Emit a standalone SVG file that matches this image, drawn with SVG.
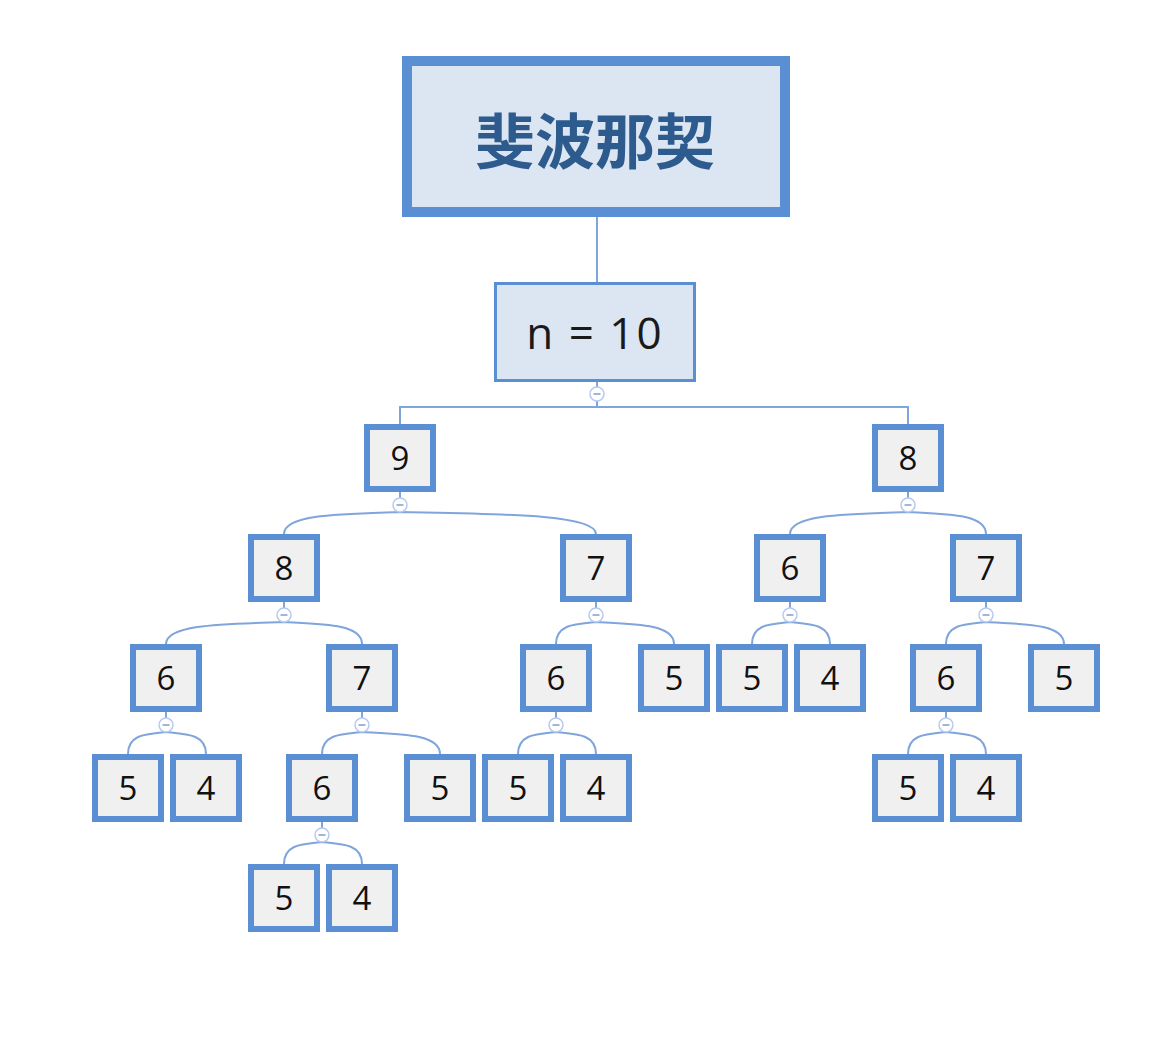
<svg xmlns="http://www.w3.org/2000/svg" width="1162" height="1044" viewBox="0 0 1162 1044">
<style>
.bx{fill:#f0f0f0;stroke:#5a8fd4;stroke-width:6}
.num{font-family:"Open Sans","Noto Sans",sans-serif;font-size:33px;fill:#111;text-anchor:middle}
.cn{fill:none;stroke:#7fa5dc;stroke-width:2}
.cc{fill:#fff;stroke:#b7caee;stroke-width:1.5}
.cm{stroke:#8ea3d0;stroke-width:1.6}
</style>
<defs>
<g id="tog"><circle class="cc" r="7"/><line class="cm" x1="-3.5" y1="0" x2="3.5" y2="0"/></g>
</defs>
<rect width="1162" height="1044" fill="#fff"/>
<g id="connectors">
<line class="cn" x1="597" y1="217" x2="597" y2="283"/>
<path class="cn" d="M597,382 V388 M597,401 V407 M400,424 V407 H908 V424"/>
<path class="cn" d="M400,492 V498 M908,492 V498 M284,602 V608 M596,602 V608 M790,602 V608 M986,602 V608 M166,712 V718 M362,712 V718 M556,712 V718 M946,712 V718 M322,822 V828"/>
<path class="cn" d="M400,512 C342,514 284,514 284,534 M400,512 C498,514 596,514 596,534 M908,512 C849,514 790,514 790,534 M908,512 C947,514 986,514 986,534"/>
<path class="cn" d="M284,622 C225,624 166,624 166,644 M284,622 C323,624 362,624 362,644 M596,622 C576,624 556,624 556,644 M596,622 C635,624 674,624 674,644 M790,622 C771,624 752,624 752,644 M790,622 C810,624 830,624 830,644 M986,622 C966,624 946,624 946,644 M986,622 C1025,624 1064,624 1064,644"/>
<path class="cn" d="M166,732 C147,734 128,734 128,754 M166,732 C186,734 206,734 206,754 M362,732 C342,734 322,734 322,754 M362,732 C401,734 440,734 440,754 M556,732 C537,734 518,734 518,754 M556,732 C576,734 596,734 596,754 M946,732 C927,734 908,734 908,754 M946,732 C966,734 986,734 986,754"/>
<path class="cn" d="M322,842 C303,844 284,844 284,864 M322,842 C342,844 362,844 362,864"/>
<use href="#tog" x="597" y="394"/>
<use href="#tog" x="400" y="505"/><use href="#tog" x="908" y="505"/>
<use href="#tog" x="284" y="615"/><use href="#tog" x="596" y="615"/><use href="#tog" x="790" y="615"/><use href="#tog" x="986" y="615"/>
<use href="#tog" x="166" y="725"/><use href="#tog" x="362" y="725"/><use href="#tog" x="556" y="725"/><use href="#tog" x="946" y="725"/>
<use href="#tog" x="322" y="835"/>
</g>
<g id="root"><rect x="407" y="61" width="378" height="151" fill="#dce6f2" stroke="#5a8fd4" stroke-width="10"/>
<text x="595" y="164" text-anchor="middle" font-family="'Noto Sans CJK SC','Noto Sans',sans-serif" font-weight="bold" font-size="60" fill="#2d5b8e">斐波那契</text></g>
<g id="n10"><rect x="495.5" y="283.5" width="199" height="97" fill="#dce6f2" stroke="#5a8fd4" stroke-width="3"/>
<text x="595" y="349" text-anchor="middle" font-family="'Open Sans','Noto Sans',sans-serif" font-size="44" fill="#1a1a1a" letter-spacing="2">n = 10</text></g>
<g id="L1a"><rect class="bx" x="367" y="427" width="66" height="62"/><text class="num" x="400" y="470">9</text></g>
<g id="L1b"><rect class="bx" x="875" y="427" width="66" height="62"/><text class="num" x="908" y="470">8</text></g>
<g id="L2a"><rect class="bx" x="251" y="537" width="66" height="62"/><text class="num" x="284" y="580">8</text></g>
<g id="L2b"><rect class="bx" x="563" y="537" width="66" height="62"/><text class="num" x="596" y="580">7</text></g>
<g id="L2c"><rect class="bx" x="757" y="537" width="66" height="62"/><text class="num" x="790" y="580">6</text></g>
<g id="L2d"><rect class="bx" x="953" y="537" width="66" height="62"/><text class="num" x="986" y="580">7</text></g>
<g id="L3a"><rect class="bx" x="133" y="647" width="66" height="62"/><text class="num" x="166" y="690">6</text></g>
<g id="L3b"><rect class="bx" x="329" y="647" width="66" height="62"/><text class="num" x="362" y="690">7</text></g>
<g id="L3c"><rect class="bx" x="523" y="647" width="66" height="62"/><text class="num" x="556" y="690">6</text></g>
<g id="L3d"><rect class="bx" x="641" y="647" width="66" height="62"/><text class="num" x="674" y="690">5</text></g>
<g id="L3e"><rect class="bx" x="719" y="647" width="66" height="62"/><text class="num" x="752" y="690">5</text></g>
<g id="L3f"><rect class="bx" x="797" y="647" width="66" height="62"/><text class="num" x="830" y="690">4</text></g>
<g id="L3g"><rect class="bx" x="913" y="647" width="66" height="62"/><text class="num" x="946" y="690">6</text></g>
<g id="L3h"><rect class="bx" x="1031" y="647" width="66" height="62"/><text class="num" x="1064" y="690">5</text></g>
<g id="L4a"><rect class="bx" x="95" y="757" width="66" height="62"/><text class="num" x="128" y="800">5</text></g>
<g id="L4b"><rect class="bx" x="173" y="757" width="66" height="62"/><text class="num" x="206" y="800">4</text></g>
<g id="L4c"><rect class="bx" x="289" y="757" width="66" height="62"/><text class="num" x="322" y="800">6</text></g>
<g id="L4d"><rect class="bx" x="407" y="757" width="66" height="62"/><text class="num" x="440" y="800">5</text></g>
<g id="L4e"><rect class="bx" x="485" y="757" width="66" height="62"/><text class="num" x="518" y="800">5</text></g>
<g id="L4f"><rect class="bx" x="563" y="757" width="66" height="62"/><text class="num" x="596" y="800">4</text></g>
<g id="L4g"><rect class="bx" x="875" y="757" width="66" height="62"/><text class="num" x="908" y="800">5</text></g>
<g id="L4h"><rect class="bx" x="953" y="757" width="66" height="62"/><text class="num" x="986" y="800">4</text></g>
<g id="L5a"><rect class="bx" x="251" y="867" width="66" height="62"/><text class="num" x="284" y="910">5</text></g>
<g id="L5b"><rect class="bx" x="329" y="867" width="66" height="62"/><text class="num" x="362" y="910">4</text></g>
</svg>
